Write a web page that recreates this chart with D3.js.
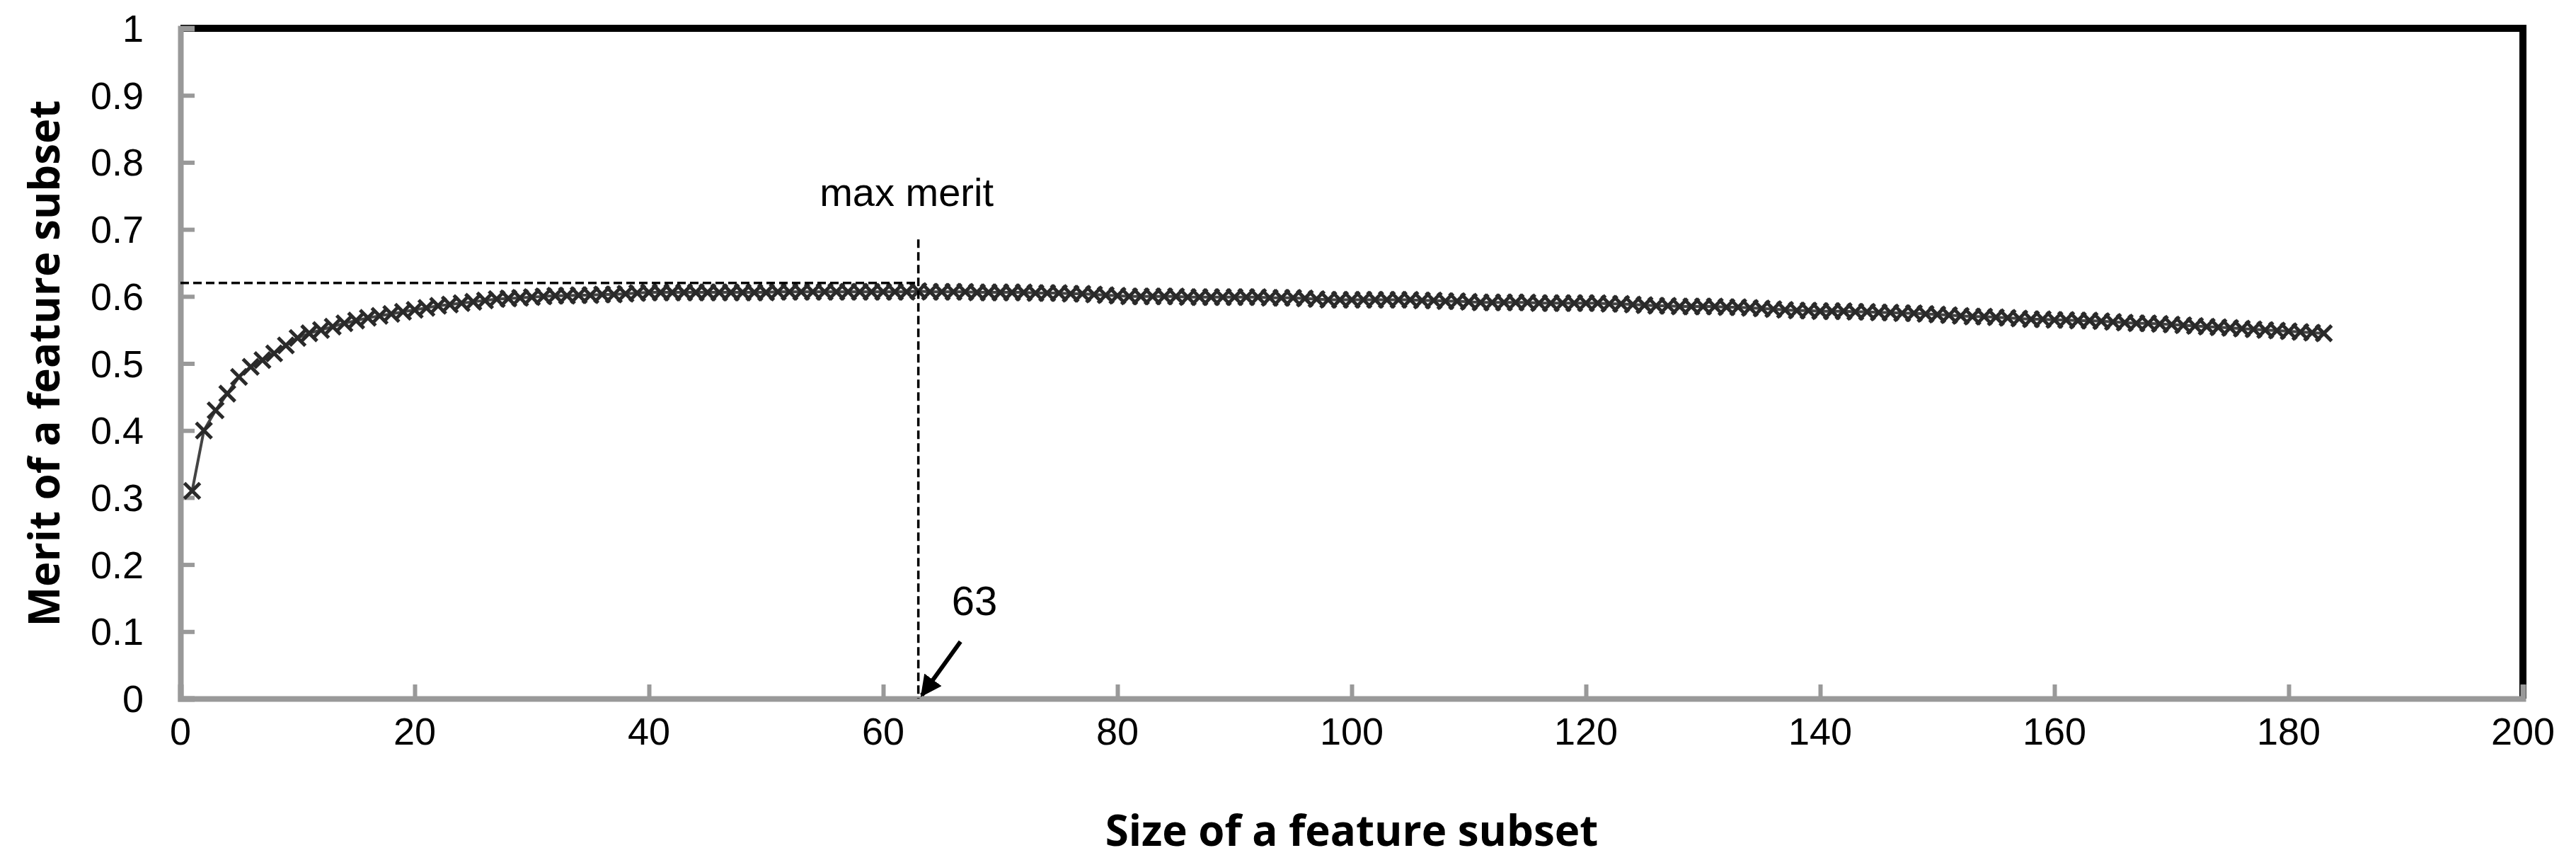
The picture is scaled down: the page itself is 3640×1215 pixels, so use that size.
<!DOCTYPE html>
<html><head><meta charset="utf-8">
<script src="https://cdn.jsdelivr.net/npm/d3@7"></script>
<style>body{margin:0;background:#fff}</style>
</head><body>
<svg id="c" width="3640" height="1215"></svg>
<script>
// merit of the best subset for each size 1..183
var sizes = d3.range(1, 184);
var merit = [
  .31,.40,.43,.455,.48,.495,.505,.515,.527,.538,
  .545,.55,.555,.56,.564,.568,.571,.574,.577,.58,
  .583,.586,.588,.59,.592,.594,.596,.597,.598,.599,
  .600,.601,.601,.602,.602,.603,.603,.604,.605,.606,
  .606,.606,.606,.606,.606,.606,.606,.606,.606,.606,
  .607,.607,.607,.607,.607,.607,.607,.607,.607,.607,
  .607,.607,.608,.607,.607,.607,.607,.606,.606,.606,
  .606,.606,.605,.605,.605,.604,.604,.603,.602,.601,
  .600,.600,.600,.600,.600,.599,.599,.599,.599,.599,
  .599,.599,.598,.598,.598,.597,.596,.595,.595,.595,
  .595,.595,.595,.595,.595,.594,.594,.593,.593,.592,
  .591,.591,.591,.591,.591,.590,.590,.590,.590,.590,
  .590,.589,.589,.588,.587,.586,.586,.585,.585,.585,
  .585,.584,.584,.583,.582,.581,.580,.579,.579,.578,
  .578,.578,.577,.577,.576,.576,.575,.575,.574,.573,
  .572,.571,.570,.570,.569,.568,.567,.566,.566,.565,
  .565,.564,.564,.563,.562,.561,.560,.560,.559,.558,
  .557,.556,.555,.554,.553,.552,.551,.550,.549,.548,
  .547,.546,.545
];
var xTicks = d3.range(0, 201, 20);
var yTicks = d3.range(0, 11).map(function(i) { return i / 10; });
var maxSize = 63, maxLine = 0.62;

var svg = d3.select("#c");
var L = 255, R = 3565, T = 40, B = 987;
var x = d3.scaleLinear().domain([0, 200]).range([L, R]);
var y = d3.scaleLinear().domain([0, 1]).range([B, T]);
var font = "'Liberation Sans', Arial, sans-serif";

// frame: top/right black, left/bottom grey
svg.append("line").attr("x1", L).attr("x2", R).attr("y1", T).attr("y2", T).attr("stroke", "#000").attr("stroke-width", 10);
svg.append("line").attr("x1", R).attr("x2", R).attr("y1", T - 5).attr("y2", B).attr("stroke", "#000").attr("stroke-width", 10);

var yAxis = svg.append("g").attr("transform", "translate(" + L + ",0)")
  .call(d3.axisRight(y).tickValues(yTicks).tickSize(20).tickFormat(d3.format("")));
var xAxis = svg.append("g").attr("transform", "translate(0," + B + ")")
  .call(d3.axisTop(x).tickValues(xTicks).tickSize(20));
[xAxis, yAxis].forEach(function(a) {
  a.select(".domain").attr("stroke", "#999").attr("stroke-width", 8);
  a.selectAll(".tick line").attr("stroke", "#999").attr("stroke-width", 6);
  a.selectAll("text").remove();
});
svg.selectAll(".ylab").data(yTicks).enter().append("text")
  .attr("x", 203).attr("y", function(d) { return y(d) + 19; })
  .attr("text-anchor", "end").attr("font-family", font).attr("font-size", 54)
  .text(function(d) { return d3.format("")(d); });
svg.selectAll(".xlab").data(xTicks).enter().append("text")
  .attr("x", function(d) { return x(d); }).attr("y", 1052)
  .attr("text-anchor", "middle").attr("font-family", font).attr("font-size", 54)
  .text(function(d) { return d; });

// series
var pts = sizes.map(function(s, i) { return [s, merit[i]]; });
svg.append("path").datum(pts).attr("fill", "none").attr("stroke", "#444").attr("stroke-width", 4)
  .attr("d", d3.line().x(function(d) { return x(d[0]); }).y(function(d) { return y(d[1]); }));
var m = 11;
svg.append("g").selectAll("path").data(pts).enter().append("path")
  .attr("d", function(d) {
    var px = x(d[0]), py = y(d[1]);
    return "M" + (px - m) + "," + (py - m) + "L" + (px + m) + "," + (py + m) +
           "M" + (px - m) + "," + (py + m) + "L" + (px + m) + "," + (py - m);
  })
  .attr("stroke", "#2a2a2a").attr("stroke-width", 5).attr("fill", "none");

// max merit annotation
svg.append("line").attr("x1", x(0)).attr("x2", x(maxSize)).attr("y1", y(maxLine)).attr("y2", y(maxLine))
  .attr("stroke", "#000").attr("stroke-width", 3.5).attr("stroke-dasharray", "12,6");
svg.append("line").attr("x1", x(maxSize)).attr("x2", x(maxSize)).attr("y1", y(0.685)).attr("y2", y(0))
  .attr("stroke", "#000").attr("stroke-width", 3.5).attr("stroke-dasharray", "12,6");
svg.append("text").attr("x", x(62)).attr("y", y(0.735)).attr("text-anchor", "middle")
  .attr("font-family", font).attr("font-size", 56).text("max merit");
svg.append("text").attr("x", x(67.8)).attr("y", y(0.125)).attr("text-anchor", "middle")
  .attr("font-family", font).attr("font-size", 58).text(maxSize);
svg.append("defs").append("marker").attr("id", "ah").attr("viewBox", "0 0 10 10")
  .attr("refX", 9).attr("refY", 5).attr("markerWidth", 5).attr("markerHeight", 5).attr("orient", "auto")
  .append("path").attr("d", "M0,0L10,5L0,10z").attr("fill", "#000");
svg.append("line").attr("x1", x(66.6)).attr("y1", y(0.085)).attr("x2", x(63.3)).attr("y2", y(0.005))
  .attr("stroke", "#000").attr("stroke-width", 6).attr("marker-end", "url(#ah)");

// axis titles
var tfont = "'Open Sans', 'Noto Sans', sans-serif";
svg.append("text").attr("x", (L + R) / 2).attr("y", 1195).attr("text-anchor", "middle")
  .attr("font-family", tfont).attr("font-weight", "bold").attr("font-size", 60).text("Size of a feature subset");
svg.append("text").attr("transform", "translate(84," + ((T + B) / 2) + ") rotate(-90)").attr("text-anchor", "middle")
  .attr("font-family", tfont).attr("font-weight", "bold").attr("font-size", 60).text("Merit of a feature subset");
</script>
</body></html>
